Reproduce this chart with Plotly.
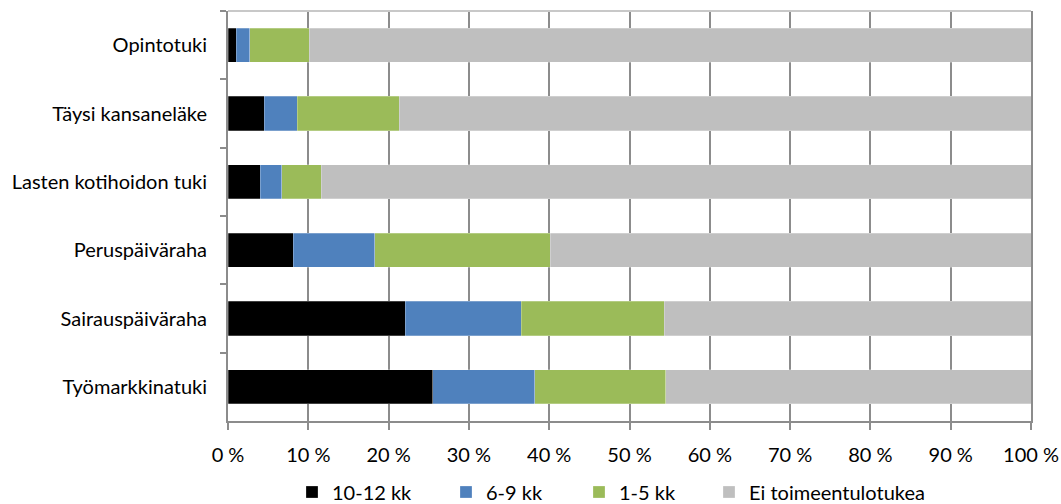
import plotly.graph_objects as go

categories = ["Opintotuki", "Täysi kansaneläke", "Lasten kotihoidon tuki",
              "Peruspäiväraha", "Sairauspäiväraha", "Työmarkkinatuki"]
series_names = ["10-12 kk", "6-9 kk", "1-5 kk", "Ei toimeentulotukea"]
v_10_12 = [1.0, 4.5, 4.0, 8.1, 22.1, 25.5]
v_6_9 = [1.7, 4.1, 2.7, 10.2, 14.4, 12.7]
v_1_5 = [7.4, 12.7, 4.9, 21.8, 17.8, 16.3]
v_ei = [89.9, 78.7, 88.4, 59.9, 45.7, 45.5]
tick_vals = [0, 10, 20, 30, 40, 50, 60, 70, 80, 90, 100]
tick_text = ["0 %", "10 %", "20 %", "30 %", "40 %", "50 %", "60 %", "70 %", "80 %", "90 %", "100 %"]

colors = ["#000000", "#4f81bd", "#9bbb59", "#bfbfbf"]
legend_ids = ["legend", "legend2", "legend3", "legend4"]
legend_x_px = [308, 462, 595, 725]  # left edge of legend squares in reference
FONT = "Lato, sans-serif"
FS = 20

L, R, T, B = 228, 30, 11, 83
W, H = 1061, 504

fig = go.Figure()
for name, vals, col, lg in zip(series_names, [v_10_12, v_6_9, v_1_5, v_ei], colors, legend_ids):
    fig.add_trace(go.Bar(
        y=categories, x=vals, name=name, orientation="h", legend=lg,
        marker=dict(color=col, line=dict(color="rgba(255,255,255,0.5)", width=0.5)),
    ))

legends = {}
for lg, px in zip(legend_ids, legend_x_px):
    legends[lg] = dict(orientation="h", xref="container", yref="container",
                       x=(px - 16) / W, xanchor="left",
                       y=1 - 492 / H, yanchor="middle",
                       font=dict(family=FONT, size=FS), itemwidth=30,
                       bgcolor="rgba(0,0,0,0)")

fig.update_layout(
    barmode="stack",
    bargap=0.5,
    width=W, height=H,
    margin=dict(l=L, r=R, t=T, b=B, autoexpand=False),
    paper_bgcolor="white", plot_bgcolor="white",
    font=dict(family=FONT, size=FS, color="#000000"),
    showlegend=True,
    xaxis=dict(range=[0, 100], tickvals=tick_vals, ticktext=tick_text,
               showgrid=True, gridcolor="#8c8c8c", gridwidth=2,
               showline=True, linecolor="#8c8c8c", linewidth=2,
               ticks="outside", ticklen=7, tickcolor="#8c8c8c", tickwidth=2,
               ticklabelstandoff=8, zeroline=False, automargin=False),
    yaxis=dict(categoryorder="array", categoryarray=categories, autorange="reversed",
               showline=True, linecolor="#8c8c8c", linewidth=2, mirror=True,
               ticks="outside", ticklen=6, tickcolor="#8c8c8c", tickwidth=2,
               tickson="boundaries", ticklabelstandoff=15, showgrid=False,
               automargin=False),
    shapes=[dict(type="line", xref="paper", yref="paper", x0=0, x1=1, y0=1, y1=1,
                 line=dict(color="#c8c8c8", width=2))],
    **legends,
)

fig.write_html("out.html", config={"displayModeBar": False},
               post_script="document.body.style.margin='0';document.body.style.overflow='hidden';")
